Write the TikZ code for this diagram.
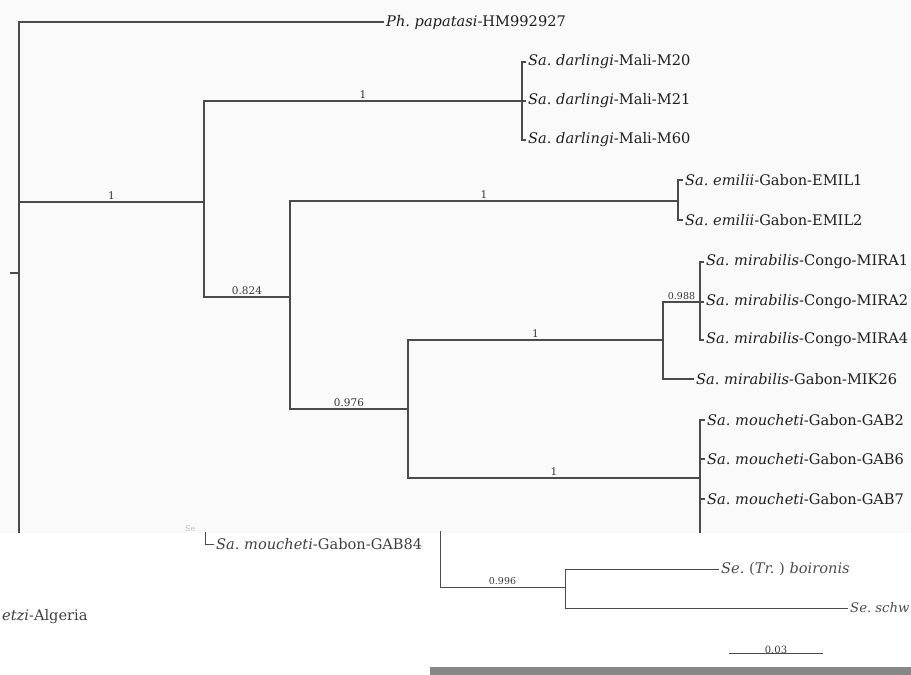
\documentclass[tikz,border=0pt]{standalone}
\usepackage{fontspec}
\setmainfont{DejaVu Serif}
\frenchspacing
\definecolor{trait}{RGB}{75,75,75}
\definecolor{barre}{RGB}{135,135,135}
\tikzset{
  feuille/.style={anchor=west, inner sep=2pt, text=black!88, font=\fontsize{14.6}{17}\selectfont},
  branche/.style={draw=trait, line width=1.4pt},
  support/.style={above, inner sep=2pt, text=black!78, font=\fontsize{10.5}{12}\selectfont},
}
\begin{document}
\begin{tikzpicture}[x=1pt, y=-1pt]
\useasboundingbox (0,0) rectangle (911,675);
\clip (0,0) rectangle (911,675);
\fill[black!2] (0,0) rectangle (911,533);

    % Noeuds internes
    \coordinate (R) at (19,273);
    \coordinate (n1) at (204,202);
    \coordinate (darl) at (522,101);
    \coordinate (n2) at (290,297);
    \coordinate (emil) at (678,201);
    \coordinate (n3) at (408,409);
    \coordinate (mira) at (663,340);
    \coordinate (n988) at (700,302);
    \coordinate (mouch) at (700,478);
    \coordinate (haut) at (19,22);
    \coordinate (cut1) at (19,533);
    \coordinate (cut2) at (700,533);
    \coordinate (cut3) at (205,532);
    \coordinate (cut4) at (440,531);
    \coordinate (n4) at (565,587);
    \coordinate (tick) at (10,273);

    % Feuilles
    \node[feuille] (pap) at (384,22) {\textit{Ph. papatasi}-HM992927};
    \node[feuille] (m20) at (526,62) {\textit{Sa. darlingi}-Mali-M20};
    \node[feuille] (m21) at (526,101) {\textit{Sa. darlingi}-Mali-M21};
    \node[feuille] (m60) at (526,140) {\textit{Sa. darlingi}-Mali-M60};
    \node[feuille] (emil1) at (683,180) {\textit{Sa. emilii}-Gabon-EMIL1};
    \node[feuille] (emil2) at (683,220) {\textit{Sa. emilii}-Gabon-EMIL2};
    \node[feuille] (mira1) at (704,262) {\textit{Sa. mirabilis}-Congo-MIRA1};
    \node[feuille] (mira2) at (704,302) {\textit{Sa. mirabilis}-Congo-MIRA2};
    \node[feuille] (mira4) at (704,340) {\textit{Sa. mirabilis}-Congo-MIRA4};
    \node[feuille] (mik26) at (694,379) {\textit{Sa. mirabilis}-Gabon-MIK26};
    \node[feuille] (gab2) at (705,420) {\textit{Sa. moucheti}-Gabon-GAB2};
    \node[feuille] (gab6) at (705,459) {\textit{Sa. moucheti}-Gabon-GAB6};
    \node[feuille] (gab7) at (705,499) {\textit{Sa. moucheti}-Gabon-GAB7};
    \node[feuille, text=black!75] (gab84) at (214,544) {\textit{Sa. moucheti}-Gabon-GAB84};
    \node[feuille, text=black!25, font=\fontsize{8}{10}\selectfont] (se) at (183,529) {Se};
    \node[feuille, text=black!70] (boir) at (719,569) {\textit{Se.} (\textit{Tr.} ) \textit{boironis}};
    \node[feuille, text=black!70, font=\fontsize{13.2}{15}\selectfont] (schw) at (848,608) {\textit{Se. schw}};
    \node[feuille, text=black!75] (alg) at (0,617) {\textit{etzi}-Algeria};

    % Branches
    \draw[branche] (tick) -- (R);
    \draw[branche] (R) -- (haut) -- (pap.west);
    \draw[branche] (R) -- (cut1);
    \draw[branche] (R) |- (n1) node[support, pos=0.75] {1};
    \draw[branche] (n1) |- (darl) node[support, pos=0.75] {1};
    \draw[branche] (darl) |- (m20.west);
    \draw[branche] (darl) -- (m21.west);
    \draw[branche] (darl) |- (m60.west);
    \draw[branche] (n1) |- (n2) node[support, pos=0.75] {0.824};
    \draw[branche] (n2) |- (emil) node[support, pos=0.75] {1};
    \draw[branche] (emil) |- (emil1.west);
    \draw[branche] (emil) |- (emil2.west);
    \draw[branche] (n2) |- (n3) node[support, pos=0.75] {0.976};
    \draw[branche] (n3) |- (mira) node[support, pos=0.75] {1};
    \draw[branche] (mira) |- (n988) node[support, pos=0.75, font=\fontsize{9.5}{11}\selectfont] {0.988};
    \draw[branche] (n988) |- (mira1.west);
    \draw[branche] (n988) -- (mira2.west);
    \draw[branche] (n988) |- (mira4.west);
    \draw[branche] (mira) |- (mik26.west);
    \draw[branche] (n3) |- (mouch) node[support, pos=0.75] {1};
    \draw[branche] (mouch) |- (gab2.west);
    \draw[branche] (mouch) |- (gab6.west);
    \draw[branche] (mouch) |- (gab7.west);
    \draw[branche] (mouch) -- (cut2);
    \draw[branche, line width=1pt] (cut3) |- (gab84.west);
    \draw[branche, line width=1pt] (cut4) |- (n4) node[support, pos=0.75, font=\fontsize{9.5}{11}\selectfont] {0.996};
    \draw[branche, line width=1pt] (n4) |- (boir.west);
    \draw[branche, line width=1pt] (n4) |- (schw.west);

    % Echelle
    \coordinate (sb1) at (729,653);
    \coordinate (sb2) at (823,653);
    \draw[branche, line width=1pt] (sb1) -- (sb2) node[midway, below=3pt, support, font=\fontsize{10}{11}\selectfont] {0.03};
    \fill[barre] (430,667) rectangle (911,675);

\end{tikzpicture}
\end{document}
